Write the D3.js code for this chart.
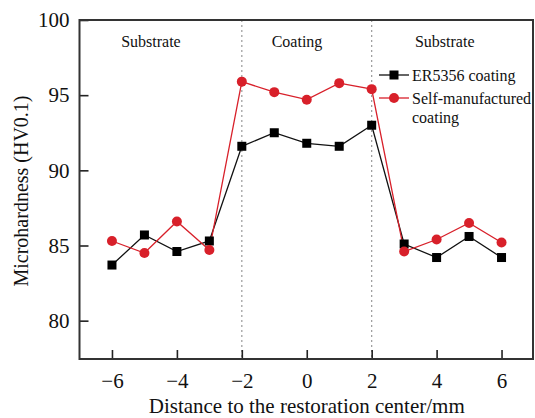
<!DOCTYPE html>
<html><head><meta charset="utf-8">
<script src="https://cdn.jsdelivr.net/npm/d3@7"></script>
<style>body{margin:0;background:#fff}svg{display:block}text{font-family:"Liberation Serif","Times New Roman",serif;fill:#111}</style>
</head><body>
<svg id="c" width="535" height="418"></svg>
<script>
const distances = [-6,-5,-4,-3,-2,-1,0,1,2,3,4,5,6];
const er5356 = [83.7,85.7,84.6,85.3,91.6,92.5,91.8,91.6,93.0,85.1,84.2,85.6,84.2];
const selfMade = [85.3,84.5,86.6,84.7,95.9,95.2,94.7,95.8,95.4,84.6,85.4,86.5,85.2];
const xTicks = [-6,-4,-2,0,2,4,6];
const yTicks = [80,85,90,95,100];
const boundaries = [-2,2];
const regions = [{label:"Substrate",x:-4.8},{label:"Coating",x:-0.3},{label:"Substrate",x:4.25}];
const seriesNames = ["ER5356 coating","Self-manufactured","coating"];

const svg = d3.select("#c");
const L=79.5,R=534,T=20,B=359;
const x = d3.scaleLinear().domain([-7,7]).range([L,R]);
const y = d3.scaleLinear().domain([77.45,100]).range([B,T]);

svg.selectAll("line.bd").data(boundaries).join("line")
  .attr("x1",d=>x(d)).attr("x2",d=>x(d)).attr("y1",T).attr("y2",B)
  .attr("stroke","#999").attr("stroke-width",1.2).attr("stroke-dasharray","2,3");

const xa = svg.append("g").attr("transform",`translate(0,${B})`)
  .call(d3.axisBottom(x).tickValues(xTicks).tickSizeInner(-9).tickSizeOuter(0).tickPadding(14)
   .tickFormat(d=>d<0?"\u2212"+Math.abs(d):d));
const ya = svg.append("g").attr("transform",`translate(${L},0)`)
  .call(d3.axisLeft(y).tickValues(yTicks).tickSizeInner(-9).tickSizeOuter(0).tickPadding(10));
[xa,ya].forEach(g=>{
  g.attr("font-family",null).attr("font-size",null);
  g.select(".domain").remove();
  g.selectAll(".tick line").attr("stroke","#222").attr("stroke-width",1.6);
  g.selectAll(".tick text").style("font-family",'"Liberation Serif","Times New Roman",serif')
   .style("font-size","21px").attr("fill","#111");
});
svg.append("rect").attr("x",L).attr("y",T).attr("width",R-L-1).attr("height",B-T)
  .attr("fill","none").attr("stroke","#333").attr("stroke-width",2);

const line = d3.line().x((d,i)=>x(distances[i])).y(d=>y(d));
const red="#d8202a";
svg.append("path").datum(er5356).attr("d",line).attr("fill","none").attr("stroke","#111").attr("stroke-width",1.3);
svg.append("path").datum(selfMade).attr("d",line).attr("fill","none").attr("stroke",red).attr("stroke-width",1.3);
svg.selectAll("rect.sq").data(er5356).join("rect")
  .attr("x",(d,i)=>x(distances[i])-4.5).attr("y",d=>y(d)-4.5).attr("width",9).attr("height",9).attr("fill","#000");
svg.selectAll("circle.ci").data(selfMade).join("circle")
  .attr("cx",(d,i)=>x(distances[i])).attr("cy",d=>y(d)).attr("r",5).attr("fill",red);

svg.selectAll("text.rg").data(regions).join("text")
  .attr("x",d=>x(d.x)).attr("y",47).attr("text-anchor","middle").style("font-size","16px").text(d=>d.label);

const lg = svg.append("g");
lg.append("line").attr("x1",379).attr("x2",409).attr("y1",75).attr("y2",75).attr("stroke","#111").attr("stroke-width",1.3);
lg.append("rect").attr("x",394-4.5).attr("y",75-4.5).attr("width",9).attr("height",9).attr("fill","#000");
lg.append("text").attr("x",412).attr("y",80.5).style("font-size","16px").text(seriesNames[0]);
lg.append("line").attr("x1",379).attr("x2",409).attr("y1",98).attr("y2",98).attr("stroke",red).attr("stroke-width",1.3);
lg.append("circle").attr("cx",394).attr("cy",98).attr("r",5).attr("fill",red);
lg.append("text").attr("x",412).attr("y",103.5).style("font-size","16px").text(seriesNames[1]);
lg.append("text").attr("x",412).attr("y",123).style("font-size","16px").text(seriesNames[2]);

svg.append("text").attr("x",(L+R)/2).attr("y",413).attr("text-anchor","middle").style("font-size","21px")
  .text("Distance to the restoration center/mm");
svg.append("text").attr("transform","translate(28,191) rotate(-90)").attr("text-anchor","middle").style("font-size","20px")
  .text("Microhardness (HV0.1)");
</script>
</body></html>
